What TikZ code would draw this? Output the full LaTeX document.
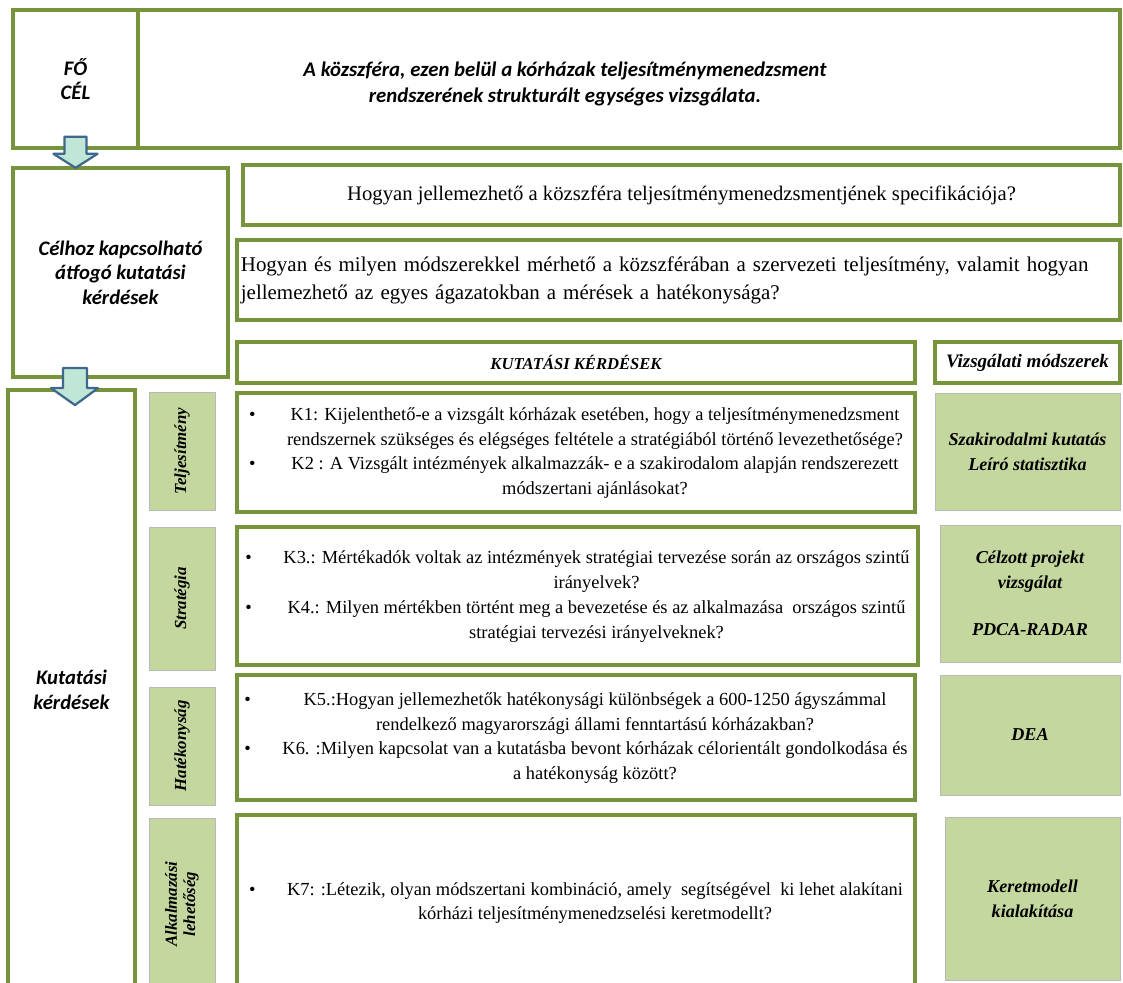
\documentclass[tikz,border=0pt]{standalone}
\usepackage{fontspec}
\setmainfont{Liberation Serif}
\newfontfamily\calibri{Carlito}
\usepackage{array}
\usetikzlibrary{positioning}

\definecolor{oliveLine}{RGB}{119,147,60}
\definecolor{tagGreen}{RGB}{196,215,158}
\definecolor{arrowBlue}{RGB}{62,104,140}
\definecolor{arrowFill}{RGB}{192,230,214}

\tikzset{
  frame/.style={draw=oliveLine, line width=2.6pt, fill=white, inner sep=0pt},
  tagbox/.style={draw=gray!55, line width=0.5pt, fill=tagGreen, inner sep=0pt},
  sidelabel/.style={tagbox, rotate=90, minimum height=1.65cm, align=center,
    font=\bfseries\itshape\fontsize{12}{13}\selectfont},
  methodbox/.style={tagbox, align=center, font=\bfseries\itshape\fontsize{12.9}{17.7}\selectfont},
  capt/.style={font=\calibri\bfseries\itshape\fontsize{14.7}{17.5}\selectfont, align=center},
  kbox/.style={frame, font=\fontsize{13.1}{17.7}\selectfont},
  blockarrow/.style={draw=arrowBlue, line width=1.6pt, fill=arrowFill, line join=round},
}

\begin{document}
\begin{tikzpicture}[x=0.025cm, y=-0.025cm]
  \useasboundingbox (0,0) rectangle (1123,983);
  % main goal
  \node[frame, capt, minimum width=3.125cm, minimum height=3.45cm] (fo) at (75.5,79) {FŐ\\CÉL};
  \node[frame, minimum width=24.55cm, minimum height=3.45cm] (cel) at (629,79) {};
  \node[capt, font=\calibri\bfseries\itshape\fontsize{14.8}{19}\selectfont] (goal) at (565,84)
    {A közszféra, ezen belül a kórházak teljesítménymenedzsment\\rendszerének strukturált egységes vizsgálata.};
  % overall questions
  \node[frame, capt, minimum width=5.375cm, minimum height=5.225cm] (celhoz) at (120.5,272.5)
    {Célhoz kapcsolható\\átfogó kutatási\\kérdések};
  \node[frame, minimum width=21.925cm, minimum height=1.5cm, font=\fontsize{14.7}{20}\selectfont] (q1) at (681.5,195)
    {Hogyan jellemezhető a közszféra teljesítménymenedzsmentjének specifikációja?};
  \node[frame, minimum height=2cm, text width=21.875cm, inner xsep=0.1cm, align=left,
    font=\fontsize{14.9}{20}\selectfont] (q2) at (678.5,280)
    {Hogyan és milyen módszerekkel mérhető a közszférában a szervezeti teljesítmény, valamit hogyan\\
     jellemezhető az egyes ágazatokban a mérések a hatékonysága?};
  % column heads
  \node[frame, minimum width=16.95cm, minimum height=1.025cm, font=\bfseries\itshape\fontsize{11.8}{14}\selectfont]
    (kuthead) at (576,362.5) {KUTATÁSI KÉRDÉSEK};
  \node[frame, minimum width=4.625cm, minimum height=1.025cm, font=\bfseries\itshape\fontsize{13.5}{14}\selectfont]
    (vizshead) at (1027.5,362.5) {Vizsgálati módszerek};
  % research questions
  \node[frame, capt, minimum width=3.175cm, minimum height=15cm] (kutbox) at (71.5,690) {Kutatási\\kérdések};
  \node[sidelabel, minimum width=2.95cm] (tel) at (182,451) {Teljesítmény};
  \node[sidelabel, minimum width=3.575cm] (str) at (182,598.5) {Stratégia};
  \node[sidelabel, minimum width=2.95cm] (hat) at (182,746) {Hatékonyság};
  \node[sidelabel, minimum width=4.3cm] (alk) at (182,904) {Alkalmazási\\lehetőség};

  \node[kbox, minimum width=16.95cm, minimum height=2.975cm] (k12) at (576,452.5) {%
    \begin{tabular}{@{}p{0.95cm}@{}c@{}}
      \textbullet & K1: Kijelenthető-e a vizsgált kórházak esetében, hogy a teljesítménymenedzsment\\
                  & rendszernek szükséges és elégséges feltétele a stratégiából történő levezethetősége?\\
      \textbullet & K2 : A Vizsgált intézmények alkalmazzák- e a szakirodalom alapján rendszerezett\\
                  & módszertani ajánlásokat?
    \end{tabular}};
  \node[kbox, minimum width=17.025cm, minimum height=3.45cm] (k34) at (577.5,596) {%
    \begin{tabular}{@{}p{0.95cm}@{}c@{}}
      \textbullet & K3.: Mértékadók voltak az intézmények stratégiai tervezése során az országos szintű\\
                  & irányelvek?\\
      \textbullet & K4.: Milyen mértékben történt meg a bevezetése és az alkalmazása \ országos szintű\\
                  & stratégiai tervezési irányelveknek?
    \end{tabular}};
  \node[kbox, minimum width=16.95cm, minimum height=3.125cm] (k56) at (576,737.5) {%
    \begin{tabular}{@{}p{0.95cm}@{}c@{}}
      \textbullet & K5.:Hogyan jellemezhetők hatékonysági különbségek a 600-1250 ágyszámmal\\
                  & rendelkező magyarországi állami fenntartású kórházakban?\\
      \textbullet & K6. :Milyen kapcsolat van a kutatásba bevont kórházak célorientált gondolkodása és\\
                  & a hatékonyság között?
    \end{tabular}};
  \node[kbox, minimum width=16.95cm, minimum height=4.375cm] (k7) at (576,902.5) {%
    \begin{tabular}{@{}p{0.95cm}@{}c@{}}
      \textbullet & K7: :Létezik, olyan módszertani kombináció, amely \ segítségével \ ki lehet alakítani\\
                  & kórházi teljesítménymenedzselési keretmodellt?
    \end{tabular}};
  % methods
  \node[methodbox, minimum width=4.625cm, minimum height=2.925cm] (m1) at (1027.5,451.5)
    {Szakirodalmi kutatás\\Leíró statisztika};
  \node[methodbox, minimum width=4.5cm, minimum height=3.425cm] (m2) at (1030,593.5)
    {Célzott projekt\\vizsgálat\\[1.2em]PDCA-RADAR};
  \node[methodbox, minimum width=4.5cm, minimum height=3cm] (m3) at (1030,735) {DEA};
  \node[methodbox, minimum width=4.375cm, minimum height=4.075cm] (m4) at (1032.5,898.5)
    {Keretmodell\\kialakítása};
  % arrows
  \draw[blockarrow] ([shift={(-11,-13)}]fo.south) -- ++(22,0) -- ++(0,17) -- ++(11,0)
    -- ++(-22,14) -- ++(-22,-14) -- ++(11,0) -- cycle;
  \draw[blockarrow] ([shift={(-8.5,-20)}]kutbox.north) -- ++(24,0) -- ++(0,20) -- ++(11,0)
    -- ++(-23,17) -- ++(-24,-17) -- ++(12,0) -- cycle;
\end{tikzpicture}
\end{document}
